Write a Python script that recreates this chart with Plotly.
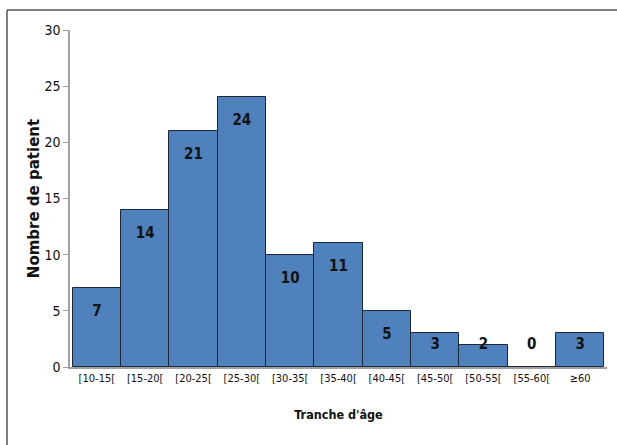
import plotly.graph_objects as go
import numpy as np

categories = ["[10-15[", "[15-20[", "[20-25[", "[25-30[", "[30-35[", "[35-40[",
              "[40-45[", "[45-50[", "[50-55[", "[55-60[", "≥60"]
values = [7, 14, 21, 24, 10, 11, 5, 3, 2, 0, 3]

narrow = "DejaVu Sans Condensed, Liberation Sans Narrow, sans-serif"

fig = go.Figure()
fig.add_trace(go.Bar(
    x=categories, y=values,
    marker=dict(color="#4f81bd", line=dict(color="#1a2838", width=1)),
    hoverinfo="skip",
))
vals = np.array(values, dtype=float)
label_y = np.maximum(vals - 2.15, 1.9)
fig.add_trace(go.Scatter(
    x=categories, y=label_y, mode="text",
    text=[str(v) for v in values],
    textfont=dict(family=narrow, size=15, color="#111111"),
    texttemplate="<b>%{text}</b>",
    hoverinfo="skip",
))

fig.update_layout(
    width=617, height=445,
    margin=dict(l=70, r=10, t=30, b=78),
    paper_bgcolor="white", plot_bgcolor="white",
    showlegend=False, bargap=0,
    xaxis=dict(
        showline=True, linecolor="#a0a0a0", linewidth=1.5,
        ticks="", showgrid=False, zeroline=False,
        tickfont=dict(family=narrow, size=11, color="#111111"),
        title=dict(text="<b>Tranche d'âge</b>", standoff=26,
                   font=dict(family=narrow, size=12.5, color="#111111")),
    ),
    yaxis=dict(
        range=[0, 30], dtick=5,
        showline=True, linecolor="#a0a0a0", linewidth=1.5,
        ticks="outside", ticklen=5, tickcolor="#a0a0a0",
        showgrid=False, zeroline=False,
        tickfont=dict(family=narrow, size=14, color="#111111"),
        title=dict(text="<b>Nombre de patient</b>", standoff=1,
                   font=dict(family="DejaVu Sans, Verdana, sans-serif", size=15, color="#111111")),
    ),
    shapes=[
        dict(type="line", xref="paper", yref="paper",
             x0=-63/537, x1=1.02, y0=(367-10)/337, y1=(367-10)/337,
             line=dict(color="#555555", width=1.5)),
        dict(type="line", xref="paper", yref="paper",
             x0=-63/537, x1=-63/537, y0=(367-10)/337, y1=-0.3,
             line=dict(color="#555555", width=1.5)),
    ],
)

fig.write_html("out.html", config={"displayModeBar": False},
               post_script="document.body.style.margin='0px';")
